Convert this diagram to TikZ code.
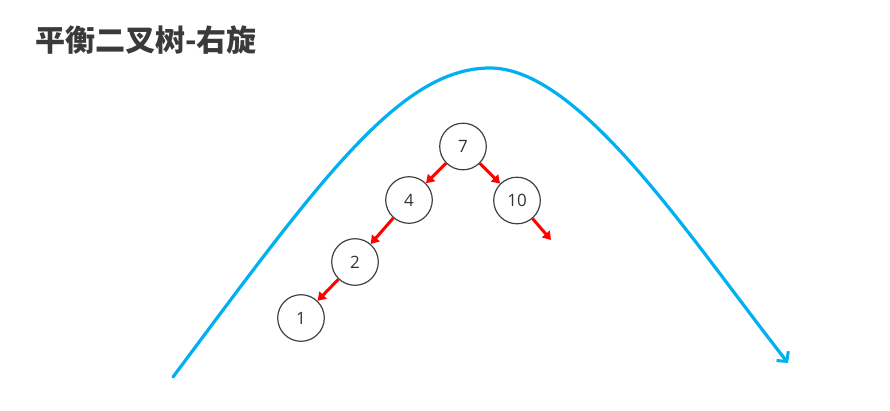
\documentclass[tikz,border=0pt]{standalone}
\usepackage{fontspec}
\setmainfont{Open Sans}
\newfontfamily\cjk{Noto Sans CJK SC}
\usetikzlibrary{arrows.meta}
\definecolor{curveblue}{HTML}{00B0F0}
\definecolor{titlegray}{HTML}{3A3A3A}
\definecolor{ringgray}{HTML}{404040}
\tikzset{
  treenode/.style={circle, draw=ringgray, line width=1.2pt, minimum size=46.6pt, inner sep=0pt, font=\fontsize{17}{17}\selectfont, text=black!80},
  redarrow/.style={draw=red, line width=3pt, -{Triangle[length=8pt,width=10pt]}},
  bluearc/.style={draw=curveblue, line width=3.2pt, line cap=round, -{Straight Barb[length=7pt,width=15pt,line width=3pt]}}
}
\begin{document}
\begin{tikzpicture}[x=1pt,y=-1pt]
\useasboundingbox (0,0) rectangle (890,410);
\node[anchor=west, inner sep=0pt, text=titlegray, font=\cjk\bfseries\fontsize{30}{30}\selectfont] (title) at (35,40) {平衡二叉树-右旋};
\coordinate (cstart) at (173,377);
\coordinate (cpeak) at (490,68);
\coordinate (cend) at (788,363);
\draw[bluearc] (cstart) .. controls (320,180) and (400,68) .. (cpeak)
  .. controls (580,68) and (690,238) .. (cend);
\node[treenode] (n7) at (463,146.5) {7};
\node[treenode] (n4) at (409,200) {4};
\node[treenode] (n10) at (517,200.5) {10};
\node[treenode] (n2) at (355,262) {2};
\node[treenode] (n1) at (301,318) {1};
\coordinate (free) at (551,240);
\draw[redarrow] (n7) -- (n4);
\draw[redarrow] (n7) -- (n10);
\draw[redarrow] (n4) -- (n2);
\draw[redarrow] (n2) -- (n1);
\draw[redarrow] (n10) -- (free);
\end{tikzpicture}
\end{document}
